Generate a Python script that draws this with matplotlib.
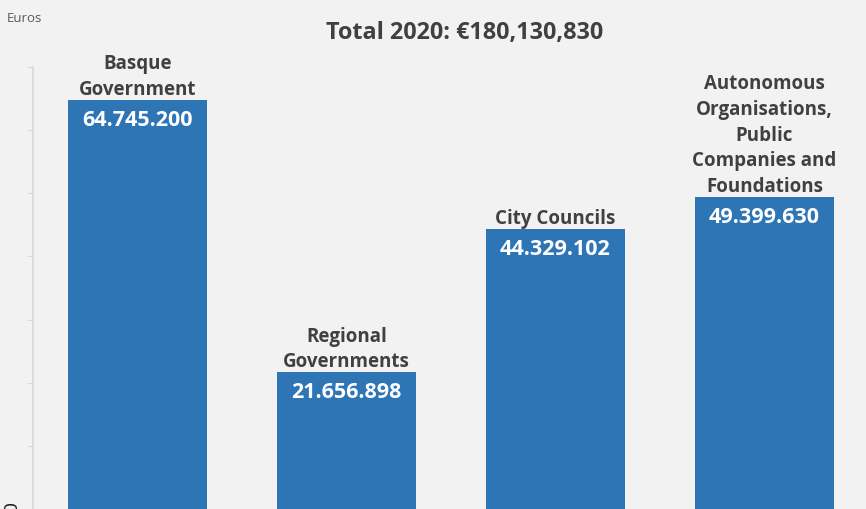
import matplotlib.pyplot as plt
import matplotlib.transforms as mtransforms

# data
categories = ['Basque\nGovernment', 'Regional\nGovernments', 'City Councils',
              'Autonomous\nOrganisations,\nPublic\nCompanies and\nFoundations']
values = [64745200, 21656898, 44329102, 49399630]
title = 'Total 2020: \u20ac180,130,830'

bg = '#f2f2f2'
bar_color = '#2e75b6'
text_color = '#404040'

plt.rcParams['font.family'] = ['Open Sans', 'DejaVu Sans']

fig = plt.figure(figsize=(8.66, 5.09), dpi=100, facecolor=bg)
ax = fig.add_axes([33/866, 0, 833/866, 442/509], facecolor=bg)

x = list(range(len(values)))
ax.bar(x, values, width=0.665, color=bar_color, zorder=2)

ax.set_xlim(-0.5, -0.5 + 833/209)
ax.set_ylim(0, 70000000)

for i, v in enumerate(values):
    ax.annotate(categories[i], (i, v), xytext=(0, 0), textcoords='offset points',
                ha='center', va='bottom', fontsize=13.5, fontweight='bold',
                color=text_color, linespacing=1.38)
    ax.annotate(f'{v:,}'.replace(',', '.'), (i, v), xytext=(0, -14.5),
                textcoords='offset points', ha='center', va='center',
                fontsize=15.5, fontweight='bold', color='white')

# axes styling
for s in ['top', 'right', 'bottom']:
    ax.spines[s].set_visible(False)
ax.spines['left'].set_color('#d9d9d9')
ax.spines['left'].set_linewidth(1.2)
ax.set_xticks([])
ax.set_yticks([i * 10000000 for i in range(8)])
ax.set_yticklabels(['0'] + [''] * 7, rotation=90, va='center', fontsize=13,
                   family='DejaVu Sans')
ax.tick_params(axis='y', length=4, color='#d9d9d9', pad=5, labelcolor='#222222')

# nudge the "0" label up a little, it sits on the bottom edge
shift = mtransforms.ScaledTranslation(0, 3/100, fig.dpi_scale_trans)
for lbl in ax.get_yticklabels():
    lbl.set_transform(lbl.get_transform() + shift)

fig.text(465/866, 1 - 33/509, title, ha='center', va='center', fontsize=16.8,
         fontweight='bold', color=text_color)
fig.text(7/866, 1 - 18/509, 'Euros', ha='left', va='center', fontsize=9.5,
         color='#595959')

fig.savefig('out.png', dpi=100, facecolor=bg)
